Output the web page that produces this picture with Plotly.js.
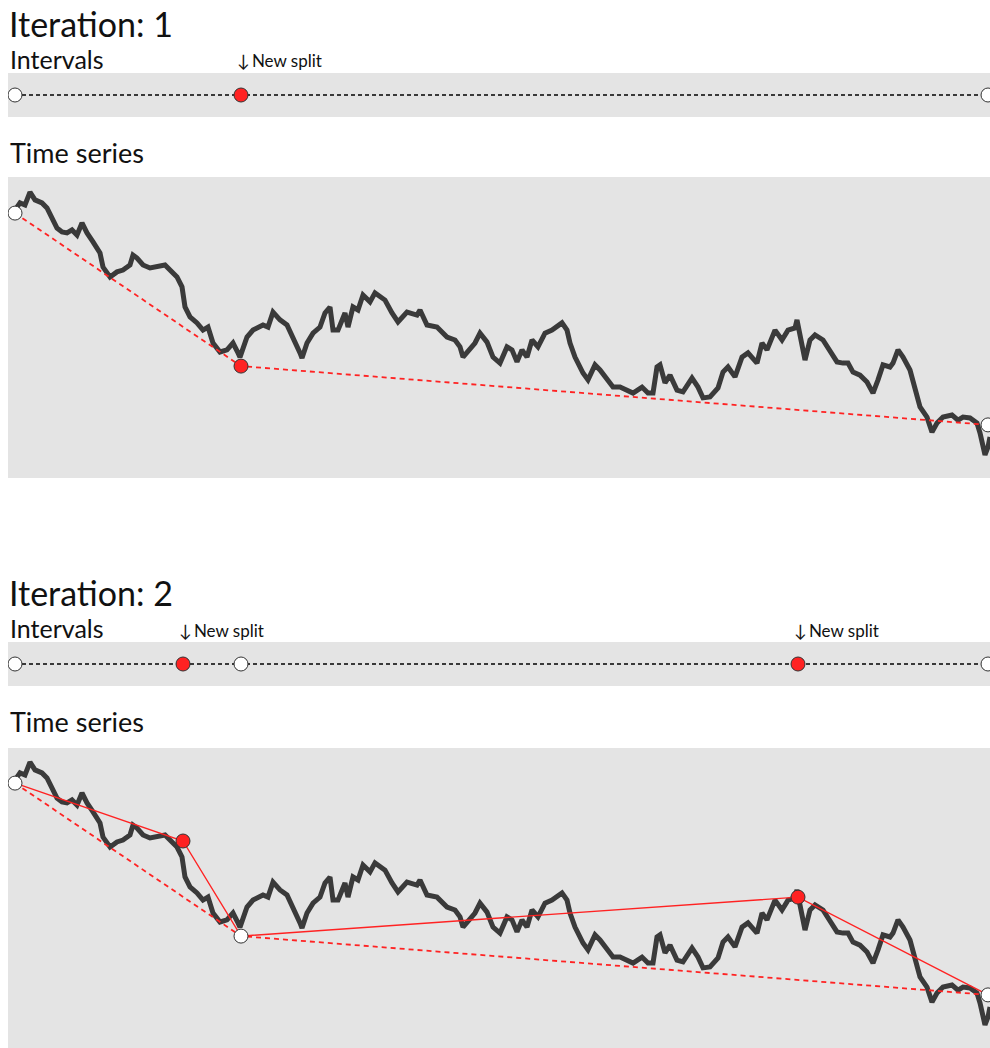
<!DOCTYPE html>
<html><head><meta charset="utf-8">
<script src="https://cdn.plot.ly/plotly-3.0.1.min.js"></script>
<style>html,body{margin:0;padding:0;background:#fff}</style>
</head><body><div id="chart" style="width:990px;height:1048px"></div>
<script>
// time-series (time step, value)
const seriesT = [0,5,10,15,20,27,32,37,42,47,52,57,62,67,72,78,85,88,95,102,108,115,118,122,128,135,142,150,155,162,167,170,175,182,188,193,198,205,212,218,223,225,232,238,248,253,258,265,272,278,285,287,292,298,305,310,315,318,323,330,333,338,343,348,355,360,365,370,377,383,392,402,405,412,422,432,440,445,448,455,460,465,472,478,485,492,497,502,507,512,517,523,530,537,547,552,555,560,568,573,580,585,592,598,605,612,618,627,633,638,642,645,650,655,662,668,677,683,688,695,703,708,713,720,727,733,742,747,752,760,767,773,780,782,785,790,795,800,808,815,822,828,833,838,845,852,858,863,868,875,878,883,888,895,900,905,912,917,922,928,937,943,948,955,962,965,970,973,975];
const seriesV = [89.3,91.7,91.0,95.3,92.7,91.7,90.0,87.0,83.3,82.0,81.7,82.7,81.0,85.0,81.7,78.7,75.0,70.3,67.0,68.7,69.3,71.0,74.3,73.3,71.0,70.0,70.3,71.0,69.3,67.0,63.7,57.0,53.7,51.7,49.3,50.3,45.0,42.0,42.7,45.0,41.7,40.3,47.0,49.3,51.0,50.3,55.3,52.7,51.0,47.0,41.7,40.0,45.0,48.3,50.3,55.0,57.0,49.3,49.3,55.0,50.3,57.0,56.0,61.0,58.7,61.7,60.3,59.3,55.0,52.0,55.3,54.3,56.0,51.0,50.3,47.0,46.0,43.7,40.3,43.3,45.0,48.3,45.3,40.3,38.3,43.7,42.7,38.7,42.7,40.3,46.0,43.7,48.3,49.3,51.7,49.3,45.0,40.3,35.0,32.7,37.7,36.0,32.7,30.3,30.3,29.3,28.3,30.3,28.3,28.3,37.0,37.7,31.7,34.3,29.3,28.7,33.3,30.3,26.7,27.0,30.0,35.3,37.0,33.7,40.3,41.7,38.3,45.0,42.7,49.3,46.0,49.3,50.0,52.7,47.0,39.3,46.0,47.7,46.0,42.7,38.7,38.3,38.3,35.3,34.3,32.0,28.3,32.7,37.7,37.0,38.3,42.7,40.3,36.0,29.3,23.7,20.3,15.3,18.3,20.3,21.0,19.3,20.3,20.0,18.3,15.0,7.7,10.3,13.7];

// split points
const split1T = [0, 226, 973];
const split1V = [88.3, 37.3, 17.7];
const split1New = [false, true, false];
const split2T = [0, 168, 226, 783, 973];
const split2V = [88.3, 69.0, 37.3, 50.3, 17.7];
const split2New = [false, true, false, true, false];

const titles1 = ["Iteration: 1", "Intervals", "Time series"];
const titles2 = ["Iteration: 2", "Intervals", "Time series"];
const newSplitLabel = "↓\u2009New split";

const RED = '#ff2222', DARK = '#333333';
const H = 1048;
const py = p => 1 - p / H;
const FONT = 'Lato, "Open Sans", sans-serif';

function markerColors(flags){ return flags.map(f => f ? RED : '#ffffff'); }
function onlyNew(arrT, flags){ return arrT.filter((t,i)=>flags[i]); }

const traces = [];
// Iteration 1 intervals
traces.push({x: split1T, y: split1T.map(()=>0), xaxis:'x', yaxis:'y', mode:'lines+markers', hoverinfo:'skip',
  line:{color:'#000', width:1.3, dash:'4px,3px'},
  marker:{size:14, color:markerColors(split1New), line:{color:DARK, width:1}}});
// Iteration 1 time series
traces.push({x: seriesT, y: seriesV, xaxis:'x2', yaxis:'y2', mode:'lines', hoverinfo:'skip',
  line:{color:'#3a3a3a', width:5}});
traces.push({x: split1T, y: split1V, xaxis:'x2', yaxis:'y2', mode:'lines+markers', hoverinfo:'skip',
  line:{color:RED, width:1.8, dash:'5px,4px'},
  marker:{size:14, color:markerColors(split1New), line:{color:DARK, width:1}}});
// Iteration 2 intervals
traces.push({x: split2T, y: split2T.map(()=>0), xaxis:'x3', yaxis:'y3', mode:'lines+markers', hoverinfo:'skip',
  line:{color:'#000', width:1.3, dash:'4px,3px'},
  marker:{size:14, color:markerColors(split2New), line:{color:DARK, width:1}}});
// Iteration 2 time series
traces.push({x: seriesT, y: seriesV, xaxis:'x4', yaxis:'y4', mode:'lines', hoverinfo:'skip',
  line:{color:'#3a3a3a', width:5}});
traces.push({x: split1T, y: split1V, xaxis:'x4', yaxis:'y4', mode:'lines', hoverinfo:'skip',
  line:{color:RED, width:1.8, dash:'5px,4px'}});
traces.push({x: split2T, y: split2V, xaxis:'x4', yaxis:'y4', mode:'lines+markers', hoverinfo:'skip',
  line:{color:RED, width:1.4},
  marker:{size:14, color:markerColors(split2New), line:{color:DARK, width:1}}});

const xBase = {range:[-7, 975], domain:[8/990, 1], showgrid:false, zeroline:false, showticklabels:false, ticks:'', showline:false, fixedrange:true};
const yBase = {showgrid:false, zeroline:false, showticklabels:false, ticks:'', showline:false, fixedrange:true};

const annotations = [];
// place text by its baseline (pixels from top); Lato box centre = baseline - 0.387*size
function txt(text, xPix, baseline, size){
  annotations.push({text, x: xPix/990, y: py(baseline - 0.387*size), xref:'paper', yref:'paper', xanchor:'left', yanchor:'middle',
    showarrow:false, font:{family:FONT, size, color:'#111'}});
}
txt(titles1[0], 7, 37, 34);
txt(titles1[1], 8, 69, 25);
txt(titles1[2], 8, 163, 27);
txt(titles2[0], 7, 606, 34);
txt(titles2[1], 8, 638, 25);
txt(titles2[2], 8, 732, 27);
function splitLabel(t, xref, baseline){
  annotations.push({text:newSplitLabel, x:t, xref, y:py(baseline - 0.387*17), yref:'paper', xanchor:'left', yanchor:'middle', xshift:-6,
    showarrow:false, font:{family:FONT, size:17, color:'#111'}});
}
onlyNew(split1T, split1New).forEach(t => splitLabel(t, 'x', 67));
onlyNew(split2T, split2New).forEach(t => splitLabel(t, 'x3', 637));

const layout = {
  width:990, height:1048, margin:{l:0,r:0,t:0,b:0,pad:0},
  paper_bgcolor:'#ffffff', plot_bgcolor:'#e4e4e4', showlegend:false,
  xaxis: Object.assign({}, xBase, {anchor:'y'}),
  xaxis2: Object.assign({}, xBase, {anchor:'y2'}),
  xaxis3: Object.assign({}, xBase, {anchor:'y3'}),
  xaxis4: Object.assign({}, xBase, {anchor:'y4'}),
  yaxis: Object.assign({}, yBase, {anchor:'x', domain:[py(117), py(73)], range:[-1,1]}),
  yaxis2: Object.assign({}, yBase, {anchor:'x2', domain:[py(478), py(177)], range:[0,100.33]}),
  yaxis3: Object.assign({}, yBase, {anchor:'x3', domain:[py(686), py(642)], range:[-1,1]}),
  yaxis4: Object.assign({}, yBase, {anchor:'x4', domain:[0, py(748)], range:[0,100]}),
  annotations
};
Plotly.newPlot('chart', traces, layout, {displayModeBar:false, staticPlot:true});
</script></body></html>
